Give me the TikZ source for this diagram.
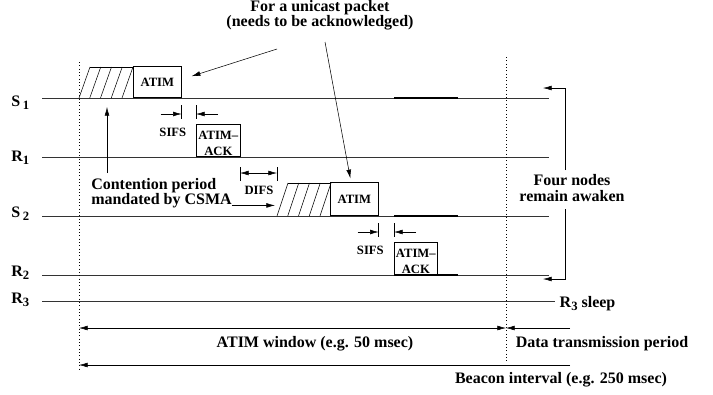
\documentclass[tikz,border=0pt]{standalone}
\usepackage{fontspec}
\setmainfont{Liberation Serif}
\usetikzlibrary{arrows.meta,positioning,calc}

\newcommand{\lowsub}[1]{\raisebox{-2.5pt}{\fontsize{9.5}{10}\selectfont #1}}

\begin{document}
\begin{tikzpicture}[x=0.75pt, y=-0.75pt,
    >={Latex[length=6.5pt,width=3.6pt]},
    timeline/.style={draw=black!80, line width=0.6pt},
    busy/.style={line width=0.9pt},
    frame/.style={draw, line width=0.5pt, inner sep=0pt, anchor=south west},
    big/.style={font=\bfseries\fontsize{12}{11.5}\selectfont},
    small/.style={font=\bfseries\fontsize{9.5}{12}\selectfont, inner sep=0pt},
    tick/.style={line width=0.5pt},
    guide/.style={dotted, line width=0.5pt}]
\useasboundingbox (0,0) rectangle (713,394);

% station names
\node[big, anchor=base east] (s1) at (34,106) {S\,\lowsub{1}};
\node[big, anchor=base east] (r1) at (34,161) {R\lowsub{1}};
\node[big, anchor=base east] (s2) at (34,217) {S\,\lowsub{2}};
\node[big, anchor=base east] (r2) at (34,276) {R\lowsub{2}};
\node[big, anchor=base east] (r3) at (34,303) {R\lowsub{3}};

% timelines
\foreach \n/\y in {s1/98,r1/157,s2/216,r2/275}{
  \coordinate (\n-a) at (42,\y);
  \coordinate (\n-b) at (549,\y);
  \draw[timeline] (\n-a) -- (\n-b);
}
\coordinate (r3-a) at (42,301);
\node[big, anchor=base west] (sleep) at (555,307) {R\lowsub{3} sleep};
\draw[timeline] (r3-a) -- (r3-a -| sleep.west);
\foreach \y in {98,216,275}
  \draw[busy] (394,\y) -- (458,\y);

% beacon boundaries
\draw[guide] (79,62) -- (79,371);
\draw[guide] (506,57) -- (506,363);

% backoff (hatched) before each ATIM
\foreach \x/\y/\h in {79/98/31, 277/216/33}{
  \draw (\x+11,\y-\h) -- (\x+54,\y-\h);
  \foreach \i in {0,...,4}
    \draw (\x+\i*10.75,\y) -- (\x+11+\i*10.75,\y-\h);
}

% frames
\node[frame, small, minimum width=36pt, minimum height=23.25pt] (atim1) at (133,98) {ATIM};
\node[frame, minimum width=33pt, minimum height=24pt] (ack1) at (196,157) {};
\node[small, align=center] (ack1txt) at ($(ack1.center)+(0,3)$) {ATIM--\\ACK};
\node[frame, small, minimum width=36pt, minimum height=24.75pt] (atim2) at (330,216) {ATIM};
\node[frame, minimum width=32.25pt, minimum height=24pt] (ack2) at (394,275) {};
\node[small, align=center] (ack2txt) at ($(ack2.center)+(0,3)$) {ATIM--\\ACK};

% SIFS gaps
\foreach \f/\a in {atim1/ack1,atim2/ack2}{
  \coordinate (l) at ($(\f.south east)+(0,7)$);
  \coordinate (r) at ($(\a.west |- \f.south)+(0,7)$);
  \draw[tick] (l) -- ++(0,14);
  \draw[tick] (r) -- ++(0,14);
  \draw[->] ($(l)+(-21,9)$) -- ($(l)+(0,9)$);
  \draw[->] ($(r)+(22,9)$) -- ($(r)+(0,9)$);
  \node[small] (sifs-\f) at ($(l)!0.5!(r)+(-16,27)$) {SIFS};
}

% DIFS gap
\coordinate (d1) at (240,167);
\coordinate (d2) at (277,167);
\draw[tick] (d1) -- ++(0,14);
\draw[tick] (d2) -- ++(0,14);
\draw[<->] ($(d1)+(0,6)$) -- ($(d2)+(0,6)$);
\node[small] (difs) at (259,190) {DIFS};

% contention note
\node[big, align=left, anchor=north west, inner sep=0pt] (csma) at (91,178) {Contention period\\mandated by CSMA};
\coordinate (cw) at (107,107);
\draw[->] ($(csma.north -| cw)+(0,-5)$) -- (cw);
\draw[->] ($(csma.south east)+(0,-3)$) -- ++(43,0);

% unicast note
\node[big, align=center] (unicast) at (320,15) {For a unicast packet\\(needs to be acknowledged)};
\coordinate (ua) at (277,49);
\coordinate (ub) at (325,42);
\draw[->] (ua) -- ($(atim1.east)+(10,-6)$);
\draw[->] (ub) -- ($(atim2.north)+(-4,-4)$);

% awake bracket
\node[big, align=center] (awake) at (572,188) {Four nodes\\remain awaken};
\coordinate (brk) at (565,0);
\draw[->] (awake.north -| brk) |- ($(s1-b)+(-6,-10)$);
\draw[->] ($(awake.south -| brk)+(0,3)$) |- ($(r2-b)+(-6,4)$);

% periods
\coordinate (w0) at (79,328);
\coordinate (w1) at (506,328);
\coordinate (w2) at (570,328);
\draw[<->] (w0) -- (w1);
\draw[->] (w2) -- (w1);
\node[big] (window) at (315,344) {ATIM window (e.g. 50 msec)};
\node[big] (data) at (602,344) {Data transmission period};
\coordinate (b0) at (79,365);
\coordinate (b1) at (570,365);
\draw[->] (b1) -- (b0);
\node[big] (beacon) at (561,380) {Beacon interval (e.g. 250 msec)};
\end{tikzpicture}
\end{document}
